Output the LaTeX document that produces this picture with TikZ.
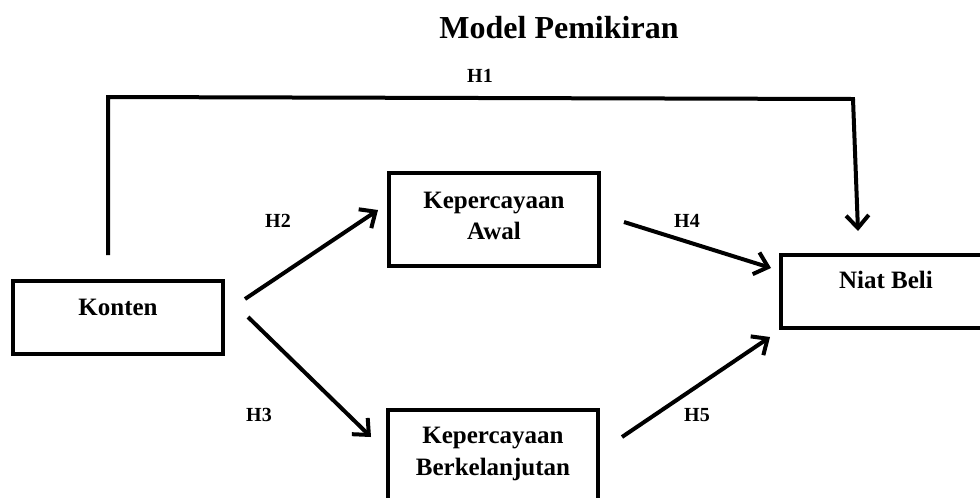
\documentclass[tikz,border=0pt]{standalone}
\usepackage{fontspec}
\setmainfont{Liberation Serif}
\usetikzlibrary{arrows.meta,calc}

\begin{document}
\begin{tikzpicture}[x=0.75pt,y=-0.75pt,
  box/.style={draw, line width=3pt, minimum width=157.5pt, inner sep=0pt},
  boxtext/.style={anchor=base, inner sep=0pt, font=\fontsize{18.75}{22}\selectfont\bfseries},
  hyp/.style={anchor=base, inner sep=0pt, font=\fontsize{15}{18}\selectfont\bfseries},
  link/.style={line width=3pt, -{Straight Barb[length=9.5pt,width=17pt,line width=3pt]}}
]
\useasboundingbox (0,0) rectangle (980,497);
\clip (0,0) rectangle (980,497);

% heading
\node[anchor=base, inner sep=0pt, font=\fontsize{24}{28}\selectfont\bfseries] (title) at (559,38) {Model Pemikiran};

% constructs
\node[box, minimum height=54.75pt] (konten) at (118,317.5) {};
\node[box, minimum height=69.75pt] (awal)   at (494,219.5) {};
\node[box, minimum height=82.5pt]  (lanjut) at (493,465) {};
\node[box, minimum height=54.75pt] (niat)   at (886,291.5) {};

\node[boxtext] (kontenT) at (118,315) {Konten};
\node[boxtext] (awalT1)  at (494,208) {Kepercayaan};
\node[boxtext] (awalT2)  at (494,239) {Awal};
\node[boxtext] (lanjutT1) at (493,443) {Kepercayaan};
\node[boxtext] (lanjutT2) at (493,475) {Berkelanjutan};
\node[boxtext] (niatT)   at (886,288) {Niat Beli};

% hypothesis labels
\node[hyp] (h1) at (480,82)  {H1};
\node[hyp] (h2) at (278,227) {H2};
\node[hyp] (h3) at (259,421) {H3};
\node[hyp] (h4) at (687,227) {H4};
\node[hyp] (h5) at (697,421) {H5};

% paths
\coordinate (c1) at ($(konten.north)+(-10,-182)$);
\coordinate (c2) at ($(niat.north)+(-33,-154)$);
\draw[link, line join=miter] ($(konten.north)+(-10,-24)$) -- (c1) -- (c2) -- ($(niat.north)+(-28,-22)$);
\draw[link] ($(konten.east)+(20,-18.5)$) -- ($(awal.west)+(-9,-9.5)$);
\draw[link] ($(konten.east)+(23,-0.5)$) -- ($(lanjut.west)+(-15,-28)$);
\draw[link] ($(awal.east)+(23,2.5)$) -- ($(niat.west)+(-8,-23.5)$);
\draw[link] ($(lanjut.east)+(22,-28)$) -- ($(niat.west)+(-9,45.5)$);
\end{tikzpicture}
\end{document}
